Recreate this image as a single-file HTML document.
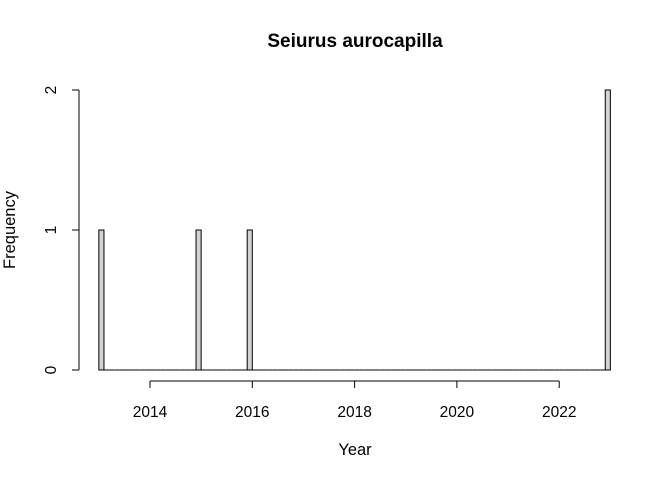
<!DOCTYPE html>
<html><head><meta charset="utf-8"><style>body{margin:0;background:#fff}svg{display:block;font-family:"Liberation Sans",sans-serif}</style></head>
<body>
<svg id="c" width="672" height="480">
<text x="355" y="47" text-anchor="middle" font-weight="bold" font-size="19">Seiurus aurocapilla</text>
<text x="355" y="455" text-anchor="middle" font-size="16.5">Year</text>
<text transform="translate(15,230) rotate(-90)" text-anchor="middle" font-size="16.5">Frequency</text>
<g id="bars"></g>
<g id="xaxis"></g>
<g id="yaxis"></g>
</svg>
<script>
const observations = [2013, 2015, 2016, 2023, 2023];
const xTicks = [2014, 2016, 2018, 2020, 2022];
const yTicks = [0, 1, 2];
const binStart = 2013, binEnd = 2023, binWidth = 0.1;
const NS = 'http://www.w3.org/2000/svg';
const xs = v => 150 + (v - 2014) * 51.15;
const ys = v => 370 - v * 140;
function mk(t, a, p) { const e = document.createElementNS(NS, t); for (const k in a) e.setAttribute(k, a[k]); p.appendChild(e); return e; }
const nb = Math.round((binEnd - binStart) / binWidth);
const counts = new Array(nb).fill(0);
observations.forEach(o => {
  let i = Math.ceil(Math.round((o - binStart) / binWidth * 1000) / 1000) - 1;
  if (i < 0) i = 0; if (i >= nb) i = nb - 1;
  counts[i]++;
});
const bars = document.getElementById('bars');
counts.forEach((c, i) => {
  const x0 = xs(binStart + i * binWidth), x1 = xs(binStart + (i + 1) * binWidth);
  const y0 = ys(0), y1 = ys(c);
  const d = 'M' + x0 + ',' + y0 + ' L' + x0 + ',' + y1 + ' L' + x1 + ',' + y1 + ' L' + x1 + ',' + y0 + ' Z';
  const r = mk('path', {d: d, fill: '#d3d3d3', stroke: '#000', 'stroke-width': 1}, bars);
  
  
});
const xa = document.getElementById('xaxis');
mk('line', {x1: xs(xTicks[0]), x2: xs(xTicks[xTicks.length - 1]), y1: 381, y2: 381, stroke: '#000'}, xa);
xTicks.forEach(t => {
  mk('line', {x1: xs(t), x2: xs(t), y1: 381, y2: 388, stroke: '#000'}, xa);
  const tx = mk('text', {x: xs(t), y: 417, 'text-anchor': 'middle', 'font-size': 15.5}, xa);
  tx.textContent = t;
  
  
});
const ya = document.getElementById('yaxis');
mk('line', {x1: 79, x2: 79, y1: ys(yTicks[0]), y2: ys(yTicks[yTicks.length - 1]), stroke: '#000'}, ya);
yTicks.forEach(t => {
  mk('line', {x1: 72, x2: 79, y1: ys(t), y2: ys(t), stroke: '#000'}, ya);
  const tx = mk('text', {transform: 'translate(56,' + ys(t) + ') rotate(-90)', 'text-anchor': 'middle', 'font-size': 15.5}, ya);
  tx.textContent = t;
  
  
});
</script>
</body></html>
